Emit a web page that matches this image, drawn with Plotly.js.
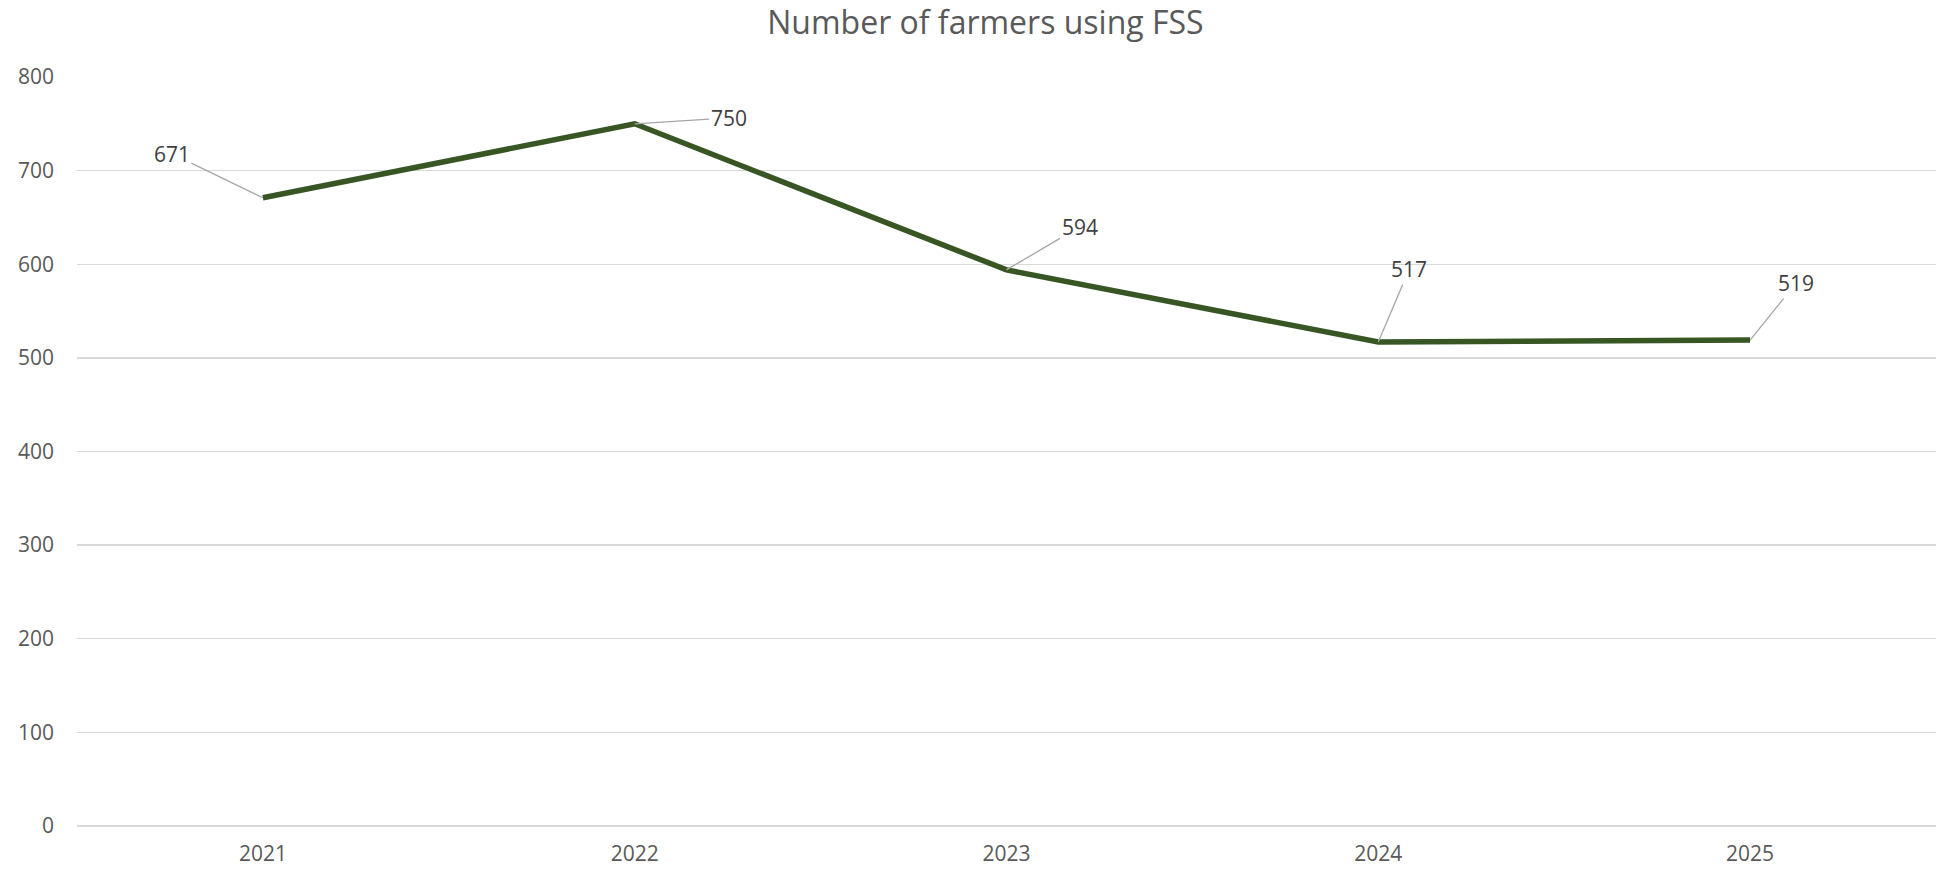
<!DOCTYPE html>
<html>
<head>
<meta charset="utf-8">
<script src="https://cdn.plot.ly/plotly-3.0.1.min.js"></script>
<style>html,body{margin:0;padding:0;background:#fff;}#chart{width:1936px;height:870px;}</style>
</head>
<body>
<div id="chart"></div>
<script>
const years = ['2021', '2022', '2023', '2024', '2025'];
const farmers = [671, 750, 594, 517, 519];
const yTicks = [0, 100, 200, 300, 400, 500, 600, 700, 800];
const chartTitle = 'Number of farmers using FSS';

// pixel offsets of each data label from its point (label placement style)
const labelDx = [-91, 94, 73, 31, 46];
const labelDy = [-44, -6, -43, -73, -57];

const FONT = '"Open Sans", "Liberation Sans", sans-serif';

const trace = {
  x: years,
  y: farmers,
  type: 'scatter',
  mode: 'lines',
  line: { color: '#375623', width: 5.5 },
  hoverinfo: 'x+y'
};

// on a category axis, annotation x is the category's serial index
const annotations = years.map((yr, i) => ({
  x: years.indexOf(yr), y: farmers[i], xref: 'x', yref: 'y',
  text: String(farmers[i]),
  showarrow: true, arrowhead: 0, arrowwidth: 1.3, arrowcolor: '#a6a6a6',
  ax: labelDx[i], ay: labelDy[i], standoff: 0,
  font: { family: FONT, size: 21, color: '#404040' }
}));

const layout = {
  width: 1936, height: 870,
  margin: { l: 77, r: 0, t: 77, b: 44 },
  paper_bgcolor: '#ffffff', plot_bgcolor: '#ffffff',
  showlegend: false,
  title: {
    text: chartTitle,
    xref: 'container', x: 0.509, xanchor: 'center', y: 0.974, yanchor: 'middle',
    font: { family: FONT, size: 32, color: '#595959' }
  },
  xaxis: {
    type: 'category',
    range: [-0.5, 4.5],
    showgrid: false, zeroline: false, showline: false,
    ticks: '', ticklabelstandoff: 13,
    tickfont: { family: FONT, size: 21, color: '#595959' }
  },
  yaxis: {
    range: [0, 800],
    tickvals: yTicks,
    ticktext: yTicks.map(String),
    showgrid: true, gridcolor: '#d9d9d9', gridwidth: 1.3,
    zeroline: true, zerolinecolor: '#d9d9d9', zerolinewidth: 1.3,
    showline: false, ticks: '', ticklabelstandoff: 22,
    tickfont: { family: FONT, size: 21, color: '#595959' }
  },
  annotations: annotations
};

Plotly.newPlot('chart', [trace], layout, { displayModeBar: false, staticPlot: true });
</script>
</body>
</html>
